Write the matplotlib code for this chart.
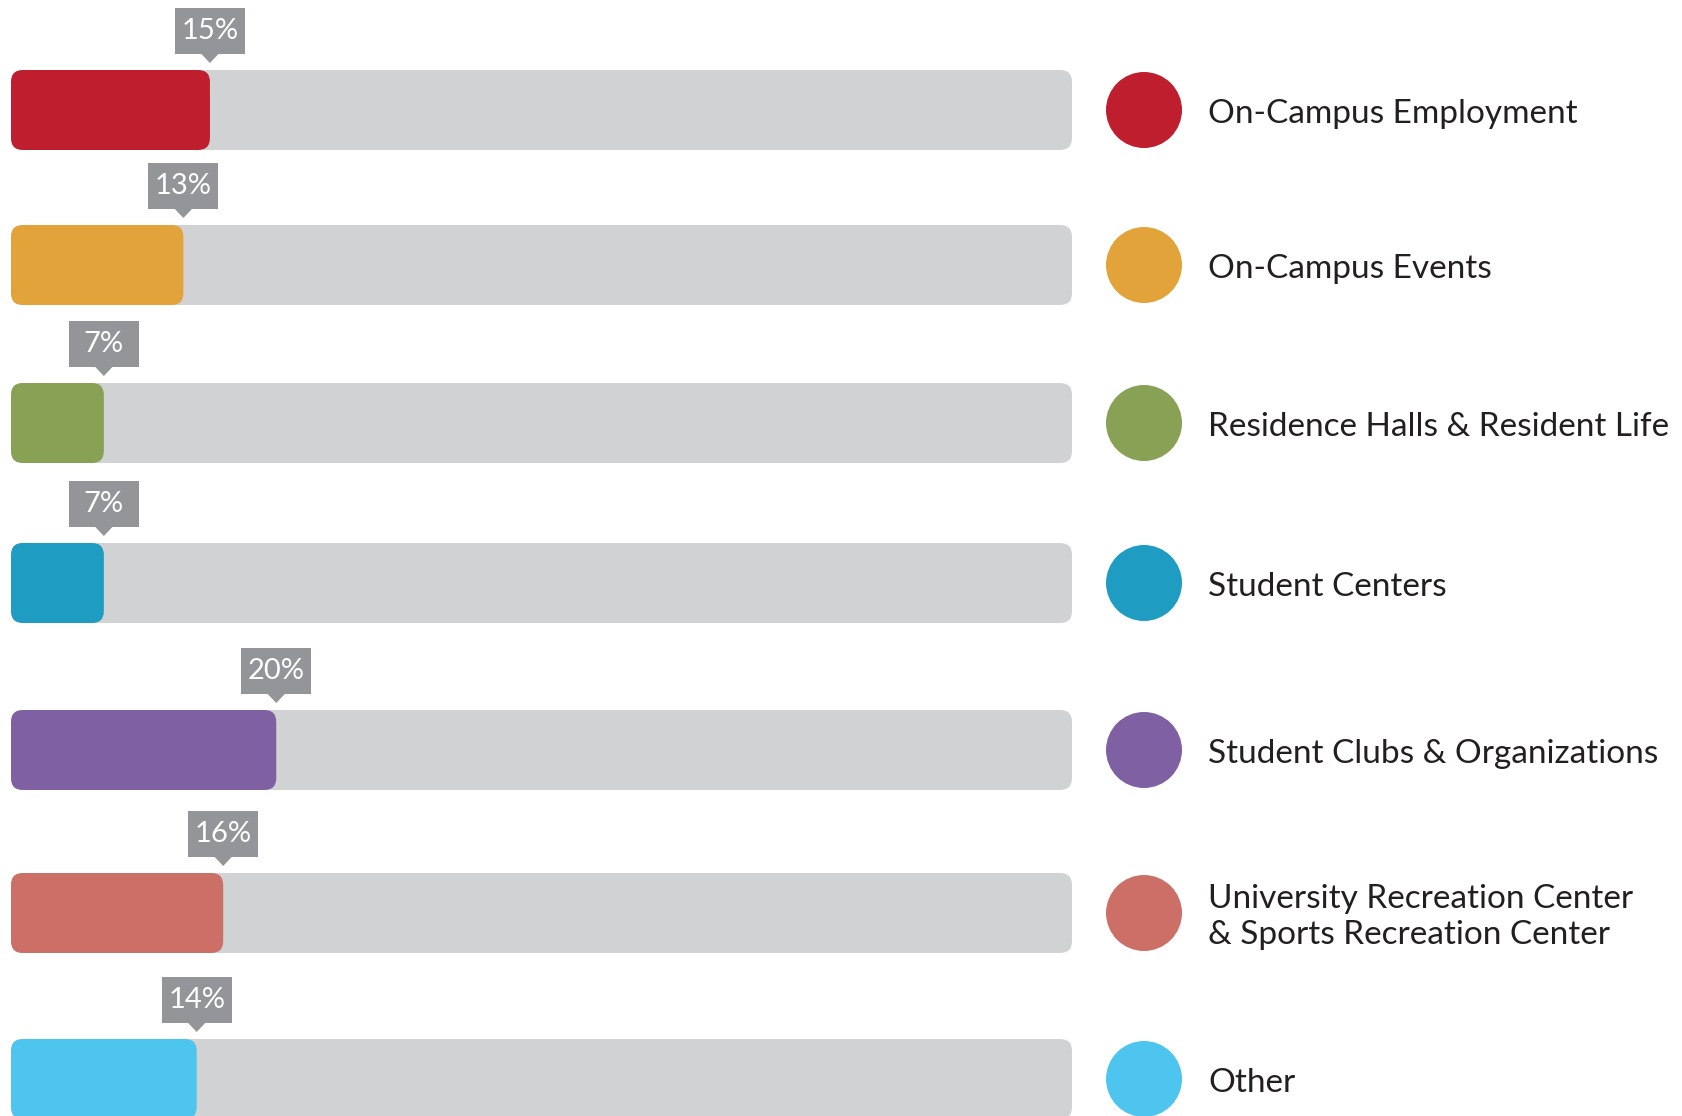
import matplotlib
matplotlib.use("Agg")
import matplotlib.pyplot as plt
from matplotlib.patches import FancyBboxPatch, Rectangle, Polygon, Circle
from matplotlib.transforms import IdentityTransform

plt.rcParams['font.family'] = ['Lato', 'DejaVu Sans']

# ---- data ----
categories = [
    "On-Campus Employment",
    "On-Campus Events",
    "Residence Halls & Resident Life",
    "Student Centers",
    "Student Clubs & Organizations",
    "University Recreation Center\n& Sports Recreation Center",
    "Other",
]
values = [15, 13, 7, 7, 20, 16, 14]
value_labels = ["15%", "13%", "7%", "7%", "20%", "16%", "14%"]
colors = ["#BE1E2D", "#E2A33B", "#89A155", "#1E9CC1", "#7F60A3", "#CC7067", "#4DC5EE"]

# ---- layout ----
W, H = 1682, 1116
TRACK_MAX = 80
row_y = [110, 265, 423, 583, 750, 913, 1079]   # pixel rows (from top)
BAR_H = 80
L_PX, R_PX = 11, 1072
TRACK_COLOR = "#D1D2D4"
BOX_COLOR = "#939598"
TEXT_COLOR = "#231F20"

fig = plt.figure(figsize=(W / 100, H / 100), dpi=100)
ax = fig.add_axes([L_PX / W, 0, (R_PX - L_PX) / W, 1])
ax.set_xlim(0, TRACK_MAX)
ax.set_ylim(H, 0)
ax.axis('off')

ux = TRACK_MAX / (R_PX - L_PX)   # x data units per pixel
aspect = 1 / ux


def rbar(x0, y0, w, h, r_px, color, z):
    p = FancyBboxPatch((x0, y0), w, h,
                       boxstyle=f"round,pad=0,rounding_size={r_px * ux}",
                       mutation_aspect=aspect, fc=color, ec='none', zorder=z)
    ax.add_patch(p)


for y, v in zip(row_y, values):
    rbar(0, y - BAR_H / 2, TRACK_MAX, BAR_H, 12, TRACK_COLOR, 1)
for y, v, c in zip(row_y, values, colors):
    rbar(0, y - BAR_H / 2, v, BAR_H, 12, c, 2)

fig.canvas.draw()
ident = IdentityTransform()
BOX_W, BOX_H, GAP, TRI_H, TRI_W = 70, 46, 16, 9, 18
for y, v, lab in zip(row_y, values, value_labels):
    px, py = ax.transData.transform((v, y - BAR_H / 2))
    fig.add_artist(Rectangle((px - BOX_W / 2, py + GAP), BOX_W, BOX_H,
                             fc=BOX_COLOR, ec='none', transform=ident, zorder=5))
    fig.add_artist(Polygon([(px - TRI_W / 2, py + GAP + 0.5), (px + TRI_W / 2, py + GAP + 0.5),
                            (px, py + GAP - TRI_H)], closed=True,
                           fc=BOX_COLOR, ec='none', transform=ident, zorder=5))
    fig.text(px, py + GAP + BOX_H / 2, lab, transform=ident, ha='center', va='center',
             color='white', fontsize=21, zorder=6)

# legend circles and labels
CIRC_X, CIRC_R, TEXT_X = 1144, 38, 1208
for y, c, name in zip(row_y, colors, categories):
    _, py = ax.transData.transform((0, y))
    fig.add_artist(Circle((CIRC_X, py), CIRC_R, fc=c, ec='none', transform=ident, zorder=5))
    fig.text(TEXT_X, py - 4, name, transform=ident, ha='left', va='center',
             color=TEXT_COLOR, fontsize=24, linespacing=1.22, zorder=6)

fig.savefig("out.png", dpi=100)
